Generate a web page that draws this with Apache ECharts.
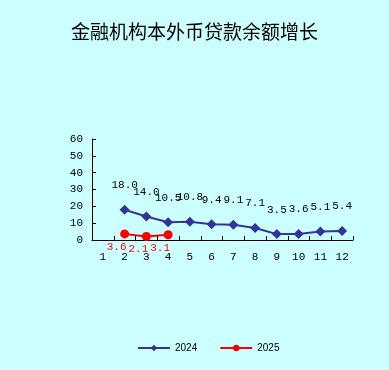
<!DOCTYPE html>
<html><head><meta charset="utf-8">
<script src="https://cdn.jsdelivr.net/npm/echarts@6/dist/echarts.min.js"></script>
<style>html,body{margin:0;padding:0;background:#ccffff;}#c{width:389px;height:370px;}</style>
</head><body><div id="c"></div>
<script>
var categories = ['1','2','3','4','5','6','7','8','9','10','11','12'];
var s2024 = [null, 18.0, 14.0, 10.5, 10.8, 9.4, 9.1, 7.1, 3.5, 3.6, 5.1, 5.4];
var s2025 = [null, 3.6, 2.1, 3.1, null, null, null, null, null, null, null, null];
var yTicks = [0, 60, 10];
var chart = echarts.init(document.getElementById('c'));
var numFont = '"Liberation Mono", monospace';
chart.setOption({
  backgroundColor: '#ccffff',
  animation: false,
  title: {text: '金融机构本外币贷款余额增长', left: 'center', top: 17,
    textStyle: {fontFamily: '"Noto Sans CJK SC"', fontWeight: 'normal', fontSize: 19, color: '#000'}},
  legend: {bottom: 12, left: 132, itemWidth: 32, itemHeight: 8, itemGap: 22,
    textStyle: {fontSize: 10, color: '#000', fontFamily: '"Liberation Sans", sans-serif'}},
  grid: {left: 92, right: 36, top: 139, bottom: 130},
  xAxis: {type: 'category', data: categories, boundaryGap: true,
    axisLine: {lineStyle: {color: '#000'}},
    axisTick: {show: true, inside: true, length: 4, lineStyle: {color: '#000'}},
    axisLabel: {color: '#000', fontSize: 11, fontFamily: numFont, margin: 12}},
  yAxis: {type: 'value', min: yTicks[0], max: yTicks[1], interval: yTicks[2],
    splitLine: {show: false},
    axisLine: {show: true, lineStyle: {color: '#000'}},
    axisTick: {show: true, inside: true, length: 4, lineStyle: {color: '#000'}},
    axisLabel: {color: '#000', fontSize: 11, fontFamily: numFont, margin: 9}},
  series: [
    {name: '2024', type: 'line', data: s2024, symbol: 'diamond', symbolSize: 10,
      lineStyle: {color: '#333399', width: 2}, itemStyle: {color: '#333399'},
      label: {show: true, position: 'top', distance: 14, color: '#000', fontSize: 11, fontFamily: numFont,
        formatter: function(p){return p.value.toFixed(1);}}},
    {name: '2025', type: 'line', data: s2025, symbol: 'circle', symbolSize: 9,
      lineStyle: {color: '#ff0000', width: 2}, itemStyle: {color: '#ff0000'},
      label: {show: true, position: 'bottom', distance: 3, offset: [-8, 0], color: '#ff0000', fontSize: 11, fontFamily: numFont,
        formatter: function(p){return p.value.toFixed(1);}}}
  ]
});
</script></body></html>
